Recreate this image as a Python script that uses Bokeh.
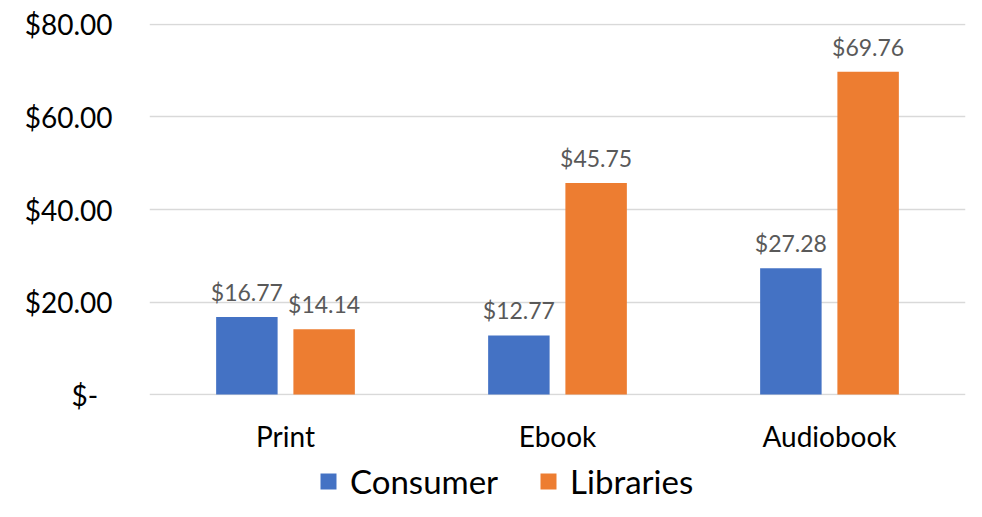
from bokeh.plotting import figure
from bokeh.models import ColumnDataSource, FixedTicker, Legend, LegendItem, Range1d, FactorRange
from bokeh.transform import dodge
from bokeh.core.properties import value
from bokeh.layouts import column
from bokeh.embed import file_html
from bokeh.resources import INLINE

categories = ["Print", "Ebook", "Audiobook"]
consumer = [16.77, 12.77, 27.28]
libraries = [14.14, 45.75, 69.76]
series_names = ["Consumer", "Libraries"]
y_ticks = [0, 20, 40, 60, 80]
y_tick_labels = ["$-\u00a0\u00a0", "$20.00", "$40.00", "$60.00", "$80.00"]

BLUE = "#4472C4"
ORANGE = "#ED7D31"
FONT = "Lato"

src = ColumnDataSource(dict(
    cat=categories,
    consumer=consumer,
    libraries=libraries,
    consumer_lbl=["$%.2f" % v for v in consumer],
    libraries_lbl=["$%.2f" % v for v in libraries],
))

p = figure(x_range=FactorRange(*categories, range_padding=0), y_range=Range1d(-0.2, 80.2),
           width=966, height=460, output_backend="svg", toolbar_location=None,
           min_border_left=149, min_border_right=1, min_border_top=23, min_border_bottom=65)
p.outline_line_color = None
p.background_fill_color = "white"
p.border_fill_color = "white"

r1 = p.vbar(x=dodge("cat", -0.142, range=p.x_range), top="consumer", width=0.226, source=src,
            fill_color=BLUE, line_color=None)
r2 = p.vbar(x=dodge("cat", 0.142, range=p.x_range), top="libraries", width=0.226, source=src,
            fill_color=ORANGE, line_color=None)

p.text(x=dodge("cat", -0.142, range=p.x_range), y="consumer", text="consumer_lbl", source=src,
       text_align="center", text_baseline="bottom", y_offset=-11,
       text_font=value(FONT), text_font_size="23px", text_color="#595959")
p.text(x=dodge("cat", 0.142, range=p.x_range), y="libraries", text="libraries_lbl", source=src,
       text_align="center", text_baseline="bottom", y_offset=-11,
       text_font=value(FONT), text_font_size="23px", text_color="#595959")

# grid
p.xgrid.grid_line_color = None
p.ygrid.ticker = FixedTicker(ticks=y_ticks)
p.ygrid.grid_line_color = "#D9D9D9"
p.ygrid.grid_line_width = 1.5

# y axis
p.yaxis.ticker = FixedTicker(ticks=y_ticks)
p.yaxis.major_label_overrides = {t: l for t, l in zip(y_ticks, y_tick_labels)}
p.yaxis.axis_line_color = None
p.yaxis.major_tick_line_color = None
p.yaxis.minor_tick_line_color = None
p.yaxis.major_tick_out = 0
p.yaxis.major_tick_in = 0
p.yaxis.major_label_standoff = 37
p.yaxis.major_label_text_font = FONT
p.yaxis.major_label_text_font_size = "28px"
p.yaxis.major_label_text_color = "#000000"

# x axis
p.xaxis.axis_line_color = None
p.xaxis.major_tick_line_color = None
p.xaxis.minor_tick_line_color = None
p.xaxis.major_tick_out = 0
p.xaxis.major_tick_in = 0
p.xaxis.major_label_standoff = 23
p.xaxis.major_label_text_font = FONT
p.xaxis.major_label_text_font_size = "28px"
p.xaxis.major_label_text_color = "#000000"

# legend strip below the chart (its frame is aligned with the main chart's frame)
lf = figure(width=966, height=41, x_range=FactorRange(*categories, range_padding=0),
            y_range=Range1d(-2, -1), output_backend="svg", toolbar_location=None,
            min_border=0, x_axis_location=None, y_axis_location=None)
lf.outline_line_color = None
lf.grid.grid_line_color = None
lr1 = lf.vbar(x="cat", top="consumer", width=0.226, source=src, fill_color=BLUE, line_color=None)
lr2 = lf.vbar(x="cat", top="libraries", width=0.226, source=src, fill_color=ORANGE, line_color=None)
lr1.visible = False
lr2.visible = False
legend = Legend(items=[LegendItem(label=series_names[0], renderers=[lr1], index=0),
                       LegendItem(label=series_names[1], renderers=[lr2], index=0)],
                orientation="horizontal", location=(169, 0),
                label_text_font=FONT, label_text_font_size="33px", label_text_color="#000000",
                glyph_width=20, glyph_height=20, label_standoff=12, spacing=40,
                padding=0, margin=0, border_line_color=None, background_fill_alpha=0)
lf.add_layout(legend, "center")

open("out.html", "w").write(file_html(column(p, lf, spacing=0), INLINE))
